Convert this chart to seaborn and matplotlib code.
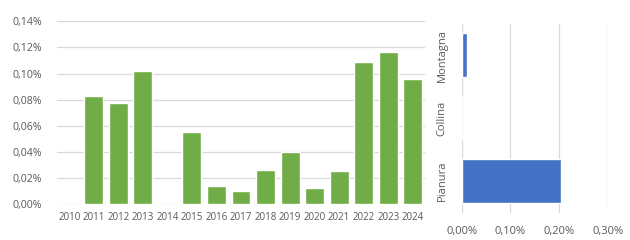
import matplotlib
matplotlib.use("Agg")
import matplotlib.pyplot as plt
import seaborn as sns
import pandas as pd
from matplotlib.ticker import FuncFormatter, MultipleLocator

years = [str(y) for y in range(2010, 2025)]
year_values = [0.0, 0.0828, 0.0774, 0.1019, 0.0, 0.0552, 0.0138, 0.0100,
               0.0261, 0.0399, 0.0123, 0.0253, 0.1088, 0.1165, 0.0958]

zones = ["Montagna", "Collina", "Pianura"]
zone_values = [0.011, 0.0, 0.2035]

green = "#70AD47"
blue = "#4472C4"
grid_c = "#D9D9D9"
text_c = "#595959"

sns.set_theme(style="white")
plt.rcParams["font.family"] = ["Open Sans", "DejaVu Sans"]

fig = plt.figure(figsize=(6.3, 2.4), dpi=100)
ax1 = fig.add_axes([57/630, 1-204/240, (425-57)/630, (204-21.3)/240])
ax2 = fig.add_axes([461.7/630, 1-212.5/240, (607.7-461.7)/630, (212.5-23.5)/240])

def pct(v, _):
    return f"{v:.2f}%".replace(".", ",")

df1 = pd.DataFrame({"year": years, "value": year_values})
sns.barplot(data=df1, x="year", y="value", color=green, ax=ax1, width=0.77,
            saturation=1, zorder=3)
ax1.set_ylim(0, 0.14)
ax1.yaxis.set_major_locator(MultipleLocator(0.02))
ax1.yaxis.set_major_formatter(FuncFormatter(pct))
ax1.grid(axis="y", color=grid_c, linewidth=0.9, zorder=0)
ax1.set_axisbelow(True)
for s in ax1.spines.values():
    s.set_visible(False)
ax1.set_xlabel("")
ax1.set_ylabel("")
ax1.tick_params(axis="both", length=0, colors=text_c)
ax1.tick_params(axis="y", pad=11, labelsize=7.6)
ax1.tick_params(axis="x", pad=6, labelsize=7)
ax1.set_xlim(-0.5, len(years) - 0.5)

df2 = pd.DataFrame({"zone": zones, "value": zone_values})
sns.barplot(data=df2, y="zone", x="value", color=blue, ax=ax2, orient="h",
            order=zones, width=0.7, saturation=1, zorder=3)
ax2.set_xlim(0, 0.3)
ax2.xaxis.set_major_locator(MultipleLocator(0.1))
ax2.xaxis.set_major_formatter(FuncFormatter(pct))
ax2.grid(axis="x", color=grid_c, linewidth=0.9, zorder=0)
ax2.set_axisbelow(True)
for s in ax2.spines.values():
    s.set_visible(False)
ax2.set_xlabel("")
ax2.set_ylabel("")
ax2.tick_params(axis="both", length=0, colors=text_c)
ax2.tick_params(axis="x", labelsize=8, pad=10)
ax2.tick_params(axis="y", labelsize=8)
for lab in ax2.get_yticklabels():
    lab.set_rotation(90)
    lab.set_va("center")
    lab.set_ha("center")
ax2.tick_params(axis="y", pad=14)

fig.savefig("out.png", dpi=100, facecolor="white")
